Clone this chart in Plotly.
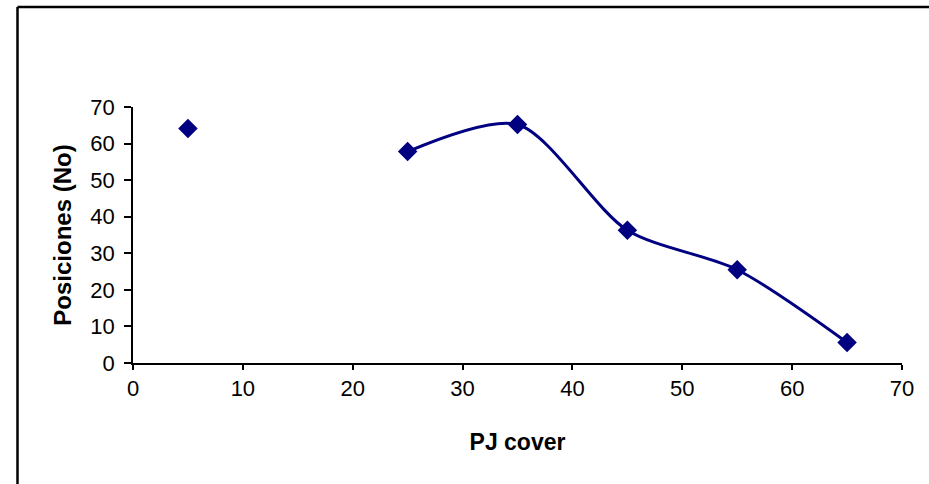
import plotly.graph_objects as go

pj_cover = [5, 15, 25, 35, 45, 55, 65]
posiciones = [64.1, None, 57.8, 65.2, 36.3, 25.5, 5.6]

x_ticks = [0, 10, 20, 30, 40, 50, 60, 70]
y_ticks = [0, 10, 20, 30, 40, 50, 60, 70]

fig = go.Figure()
fig.add_trace(go.Scatter(
    x=pj_cover, y=posiciones,
    mode="lines+markers",
    connectgaps=False,
    line=dict(color="#000080", width=3, shape="spline", smoothing=0.8),
    marker=dict(symbol="diamond", size=15, color="#000080"),
    showlegend=False,
))

font = "Liberation Sans, Arial, sans-serif"
border = dict(color="black", width=2.5)
fig.update_layout(
    width=929, height=484,
    margin=dict(l=133, r=27, t=107, b=121),
    paper_bgcolor="white", plot_bgcolor="white",
    font=dict(family=font, size=22, color="black"),
    xaxis=dict(
        range=[0, 70], tickvals=x_ticks, showgrid=False, zeroline=False,
        showline=True, linecolor="black", linewidth=1.5,
        ticks="outside", ticklen=5, tickcolor="black", tickwidth=1.5,
        tickfont=dict(size=22),
        title=dict(text="<b>PJ cover</b>", font=dict(size=23), standoff=34),
    ),
    yaxis=dict(
        range=[0, 70], tickvals=y_ticks, showgrid=False, zeroline=False,
        showline=True, linecolor="black", linewidth=1.5,
        ticks="outside", ticklen=7, tickcolor="black", tickwidth=1.5,
        tickfont=dict(size=22), ticklabelstandoff=5,
        title=dict(text="<b>Posiciones (No)</b>", font=dict(size=24), standoff=12),
    ),
    shapes=[
        dict(type="line", xref="paper", yref="paper",
             x0=-0.1502, x1=-0.1502, y0=-0.5, y1=1.3906, line=border, layer="above"),
        dict(type="line", xref="paper", yref="paper",
             x0=-0.1502, x1=1.1, y0=1.3906, y1=1.3906, line=border, layer="above"),
    ],
)

fig.write_html(
    "out.html", config={"displayModeBar": False},
    post_script=(
        "document.body.style.margin='0';"
        "document.body.style.overflow='hidden';"
        "document.documentElement.style.overflow='hidden';"
    ),
)
